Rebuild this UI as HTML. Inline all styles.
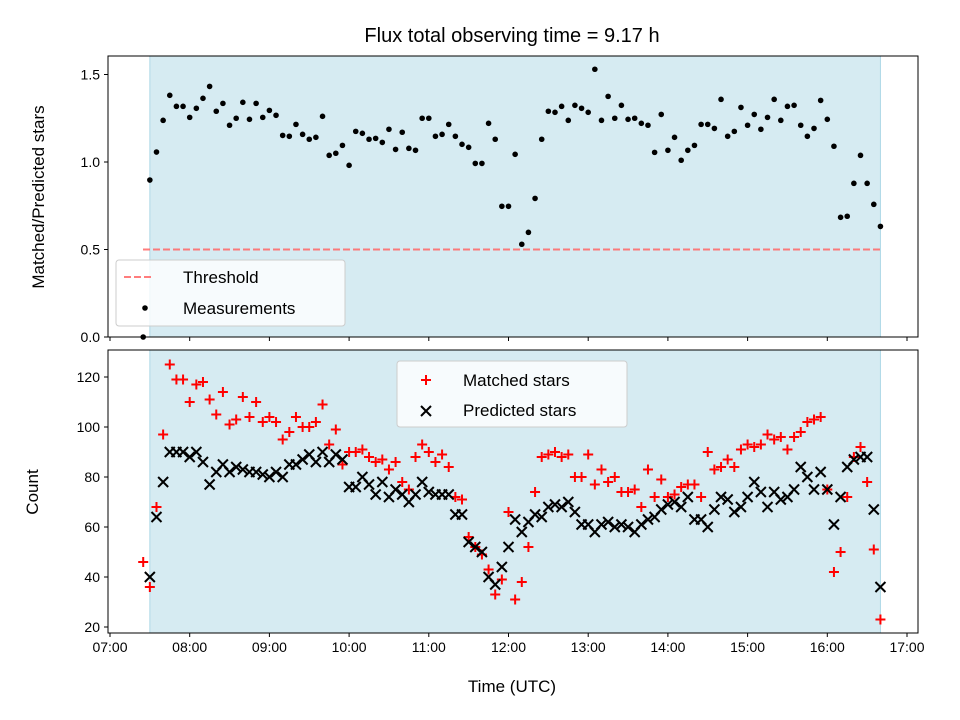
<!DOCTYPE html>
<html><head><meta charset="utf-8"><style>
body{margin:0;background:#fff;}
svg{display:block;font-family:"Liberation Sans","DejaVu Sans",sans-serif;}
</style></head><body>
<svg id="chart" width="960" height="720" viewBox="0 0 960 720"></svg>
<script>
// ---- data ----
const startHour = 7 + 25/60;  // first sample 07:25, 5-minute cadence
const stepMin = 5;
const ratioValues = [0,0.897,1.057,1.238,1.381,1.318,1.318,1.255,1.307,1.364,1.432,1.290,1.335,1.210,1.250,1.341,1.244,1.335,1.255,1.295,1.267,1.152,1.147,1.215,1.158,1.130,1.141,1.261,1.038,1.050,1.095,0.981,1.175,1.164,1.130,1.135,1.112,1.187,1.072,1.170,1.078,1.067,1.250,1.250,1.147,1.158,1.215,1.147,1.101,1.084,0.992,0.992,1.221,1.130,0.747,0.747,1.044,0.530,0.598,0.792,1.130,1.290,1.284,1.318,1.238,1.324,1.307,1.284,1.530,1.238,1.375,1.250,1.324,1.244,1.250,1.221,1.210,1.055,1.272,1.067,1.141,1.010,1.067,1.095,1.215,1.215,1.192,1.358,1.147,1.175,1.312,1.210,1.272,1.187,1.255,1.358,1.238,1.318,1.324,1.210,1.147,1.192,1.352,1.244,1.090,0.684,0.690,0.878,1.038,0.878,0.758,0.632];
const matchedValues = [46,36,68,97,125,119,119,110,117,118,111,105,114,101,103,112,104,110,102,104,102,95,98,104,100,100,102,109,93,99,85,90,90,91,88,86,87,83,86,78,75,88,93,90,86,89,84,72,71,56,52,49,43,33,39,66,31,38,52,74,88,89,90,88,89,80,80,89,77,83,78,80,74,74,75,68,83,72,79,72,73,76,77,77,72,90,83,84,87,84,91,93,92,93,97,95,96,91,96,98,102,103,104,75,42,50,72,88,92,78,51,23];
const predictedValues = [null,40,64,78,90,90,90,88,90,86,77,82,85,82,84,83,82,82,81,80,82,80,85,85,87,89,86,90,86,89,87,76,76,80,77,73,78,72,75,73,70,73,78,74,73,73,73,65,65,54,52,50,40,37,44,52,63,58,62,65,64,68,69,68,70,66,61,61,58,61,62,60,61,60,58,61,63,64,67,69,70,68,72,63,63,60,67,72,71,66,68,72,78,74,68,74,71,72,75,84,80,75,82,75,61,72,84,87,88,88,67,36];
const thresholdValue = 0.5;
const xTickLabels = ["07:00","08:00","09:00","10:00","11:00","12:00","13:00","14:00","15:00","16:00","17:00"];
const topYTicks = [0.0,0.5,1.0,1.5];
const bottomYTicks = [20,40,60,80,100,120];
const shadeStartHour = 7.5, shadeEndHour = 16 + 40/60;

// ---- axes ----
const NS="http://www.w3.org/2000/svg";
const svg=document.getElementById('chart');
const L=108,R=918;
const xs=h=>110+(h-7)*79.7;
const yTop=v=>337-v*175;
const yBot=v=>627-(v-20)*2.5;
function el(tag,attrs,parent){const e=document.createElementNS(NS,tag);for(const k in attrs)e.setAttribute(k,attrs[k]);(parent||svg).appendChild(e);return e;}
function txt(s,attrs,parent){const e=el('text',attrs,parent);e.textContent=s;return e;}

function panel(top,bottom,name){
  const g=el('g',{});
  
  
  const sh=el('rect',{x:xs(shadeStartHour),y:top,width:xs(shadeEndHour)-xs(shadeStartHour),height:bottom-top,fill:'#add8e6','fill-opacity':0.5,stroke:'#add8e6','stroke-width':1},g);
  
  
  return g;
}
function frame(top,bottom,g,labels){
  el('rect',{x:L,y:top,width:R-L,height:bottom-top,fill:'none',stroke:'#000','stroke-width':1},g);
  xTickLabels.forEach((lab,i)=>{
    const x=xs(7+i);
    el('line',{x1:x,x2:x,y1:bottom,y2:bottom+4,stroke:'#000','stroke-width':1},g);
    if(labels){const t=txt(lab,{x:x,y:bottom+19,'font-size':14,'text-anchor':'middle'},g);
      
      }
  });
}

// top panel
const gt=panel(56,337,'ratio-panel');
const th=el('line',{x1:143,x2:xs(shadeEndHour),y1:yTop(thresholdValue),y2:yTop(thresholdValue),stroke:'#ff6666','stroke-opacity':0.85,'stroke-width':2,'stroke-dasharray':'7,3'},gt);


ratioValues.forEach((v,i)=>{
  if(v===null)return;
  const c=el('circle',{cx:xs(startHour+i*stepMin/60),cy:yTop(v),r:2.8,fill:'#000'},gt);
  
  
});
frame(56,337,gt,false);
topYTicks.forEach(v=>{
  const y=yTop(v);
  el('line',{x1:L-4,x2:L,y1:y,y2:y,stroke:'#000'},gt);
  const t=txt(v.toFixed(1),{x:L-8,y:y+5,'font-size':14,'text-anchor':'end'},gt);
  
  
});

// bottom panel
const gb=panel(350,633,'count-panel');
function plus(x,y,g){const p=el('path',{d:`M${x-5} ${y}H${x+5}M${x} ${y-5}V${y+5}`,stroke:'#ff0000','stroke-width':2},g);}
function cross(x,y,g){const p=el('path',{d:`M${x-5} ${y-5}L${x+5} ${y+5}M${x-5} ${y+5}L${x+5} ${y-5}`,stroke:'#000','stroke-width':2},g);}
matchedValues.forEach((v,i)=>{if(v!==null)plus(xs(startHour+i*stepMin/60),yBot(v),gb);});
predictedValues.forEach((v,i)=>{if(v!==null)cross(xs(startHour+i*stepMin/60),yBot(v),gb);});
frame(350,633,gb,true);
bottomYTicks.forEach(v=>{
  const y=yBot(v);
  el('line',{x1:L-4,x2:L,y1:y,y2:y,stroke:'#000'},gb);
  const t=txt(String(v),{x:L-8,y:y+5,'font-size':14,'text-anchor':'end'},gb);
  
  
});

// legends
const lg1=el('g',{});


el('rect',{x:116,y:260,width:229,height:66,rx:3,fill:'#fff','fill-opacity':0.8,stroke:'#ccc'},lg1);
el('line',{x1:124,x2:152,y1:277,y2:277,stroke:'#ff6666','stroke-opacity':0.85,'stroke-width':2,'stroke-dasharray':'7,3'},lg1);
txt('Threshold',{x:183,y:283,'font-size':17},lg1);
el('circle',{cx:145,cy:308,r:2.8,fill:'#000'},lg1);
txt('Measurements',{x:183,y:314,'font-size':17},lg1);

const lg2=el('g',{});


el('rect',{x:397,y:361,width:230,height:66,rx:3,fill:'#fff','fill-opacity':0.8,stroke:'#ccc'},lg2);
plus(426,380,lg2);
txt('Matched stars',{x:463,y:386,'font-size':17},lg2);
cross(426,411,lg2);
txt('Predicted stars',{x:463,y:416,'font-size':17},lg2);

// titles
let t=txt('Flux total observing time = 9.17 h',{x:512,y:42,'font-size':20,'text-anchor':'middle'});


t=txt('Matched/Predicted stars',{x:0,y:0,'font-size':17,'text-anchor':'middle',transform:'translate(44,197) rotate(-90)'});


t=txt('Count',{x:0,y:0,'font-size':17,'text-anchor':'middle',transform:'translate(38,492) rotate(-90)'});


t=txt('Time (UTC)',{x:512,y:692,'font-size':17,'text-anchor':'middle'});


</script>
</body></html>
